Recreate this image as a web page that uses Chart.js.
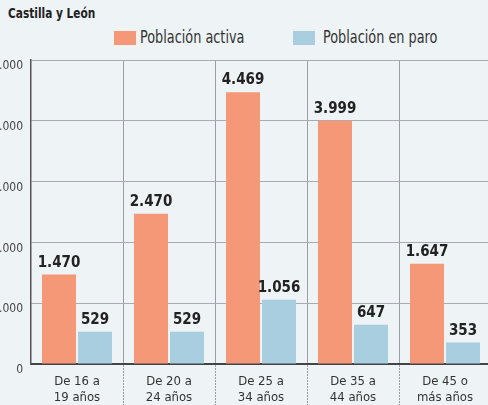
<!DOCTYPE html>
<html>
<head>
<meta charset="utf-8">
<script src="https://cdn.jsdelivr.net/npm/chart.js@4"></script>
<style>
  html, body { margin: 0; padding: 0; }
  body {
    width: 488px; height: 405px; overflow: hidden; position: relative;
    background: #eef3f6;
    font-family: 'DejaVu Sans Condensed', sans-serif;
    color: #333;
  }
  #region { position: absolute; left: 8px; top: 5px; font-weight: bold; font-size: 14px; color: #222;
            transform: scaleX(0.84); transform-origin: left top; white-space: nowrap; }
  .key { position: absolute; top: 31px; width: 22px; height: 14px; }
  .keytxt { position: absolute; top: 27px; font-size: 17px; line-height: 20px; color: #333;
            transform: scaleX(0.84); transform-origin: left top; white-space: nowrap; }
  #wrap { position: absolute; left: -14px; top: 0; width: 505px; height: 420px; }
</style>
</head>
<body>
<div id="region">Castilla y León</div>
<div class="key" style="left:114px;background:#f59878"></div>
<div class="keytxt" style="left:140px">Población activa</div>
<div class="key" style="left:293px;background:#a8cee0"></div>
<div class="keytxt" style="left:323px">Población en paro</div>
<div id="wrap"><canvas id="chart" width="505" height="420"></canvas></div>
<script>
// Age groups and values
const ageGroups = [
    ['De 16 a', '19 años'],
    ['De 20 a', '24 años'],
    ['De 25 a', '34 años'],
    ['De 35 a', '44 años'],
    ['De 45 o', 'más años']
];
const activePop = [1470, 2470, 4469, 3999, 1647];
const unemployedPop = [529, 529, 1056, 647, 353];
const yTicks = [0, 1000, 2000, 3000, 4000, 5000];

const fontStack = "'DejaVu Sans Condensed', sans-serif";

// Thousands with a dot, as in the original
function fmt(v) {
    return String(v).replace(/\B(?=(\d{3})+(?!\d))/g, '.');
}

// Draw the numbers above each bar
const valueLabels = {
    id: 'valueLabels',
    afterDatasetsDraw(chart) {
        const ctx = chart.ctx;
        ctx.save();
        ctx.font = 'bold 15px ' + fontStack;
        ctx.fillStyle = '#222';
        ctx.textAlign = 'center';
        ctx.textBaseline = 'alphabetic';
        chart.data.datasets.forEach((ds, i) => {
            chart.getDatasetMeta(i).data.forEach((bar, j) => {
                ctx.fillText(fmt(ds.data[j]), bar.x, bar.y - 8);
            });
        });
        ctx.restore();
    }
};

new Chart(document.getElementById('chart'), {
    type: 'bar',
    data: {
        labels: ageGroups,
        datasets: [{
            label: 'Población activa',
            data: activePop,
            backgroundColor: '#f59878'
        }, {
            label: 'Población en paro',
            data: unemployedPop,
            backgroundColor: '#a8cee0'
        }]
    },
    options: {
        responsive: false,
        animation: false,
        categoryPercentage: 0.7826,
        barPercentage: 0.944,
        layout: { padding: { top: 60, left: 0, right: 0, bottom: 0 } },
        plugins: {
            legend: { display: false },
            tooltip: { enabled: false }
        },
        scales: {
            x: {
                grid: {
                    offset: true,
                    color: c => c.index === 0 ? 'transparent' : '#9a9ea2',
                    tickColor: c => c.index === 0 ? 'transparent' : '#9a9ea2',
                    borderDash: [2, 1],
                    tickBorderDash: [2, 1],
                    tickLength: 45,
                    lineWidth: 1
                },
                border: { color: '#444', width: 2 },
                ticks: {
                    color: '#333',
                    padding: -35,
                    font: { family: fontStack, size: 13, lineHeight: '16px' }
                },
                afterFit(scale) { scale.height = 56; }
            },
            y: {
                min: 0,
                max: 5000,
                afterBuildTicks(scale) {
                    scale.ticks = yTicks.map(v => ({ value: v }));
                },
                grid: { color: '#a7abaf', lineWidth: 1, drawTicks: false },
                border: { color: '#555', width: 1.5 },
                ticks: {
                    color: '#444',
                    padding: 8,
                    labelOffset: 6,
                    font: { family: fontStack, size: 12 },
                    callback: v => fmt(v)
                },
                afterFit(scale) { scale.width = 45; }
            }
        }
    },
    plugins: [valueLabels]
});
</script>
</body>
</html>
